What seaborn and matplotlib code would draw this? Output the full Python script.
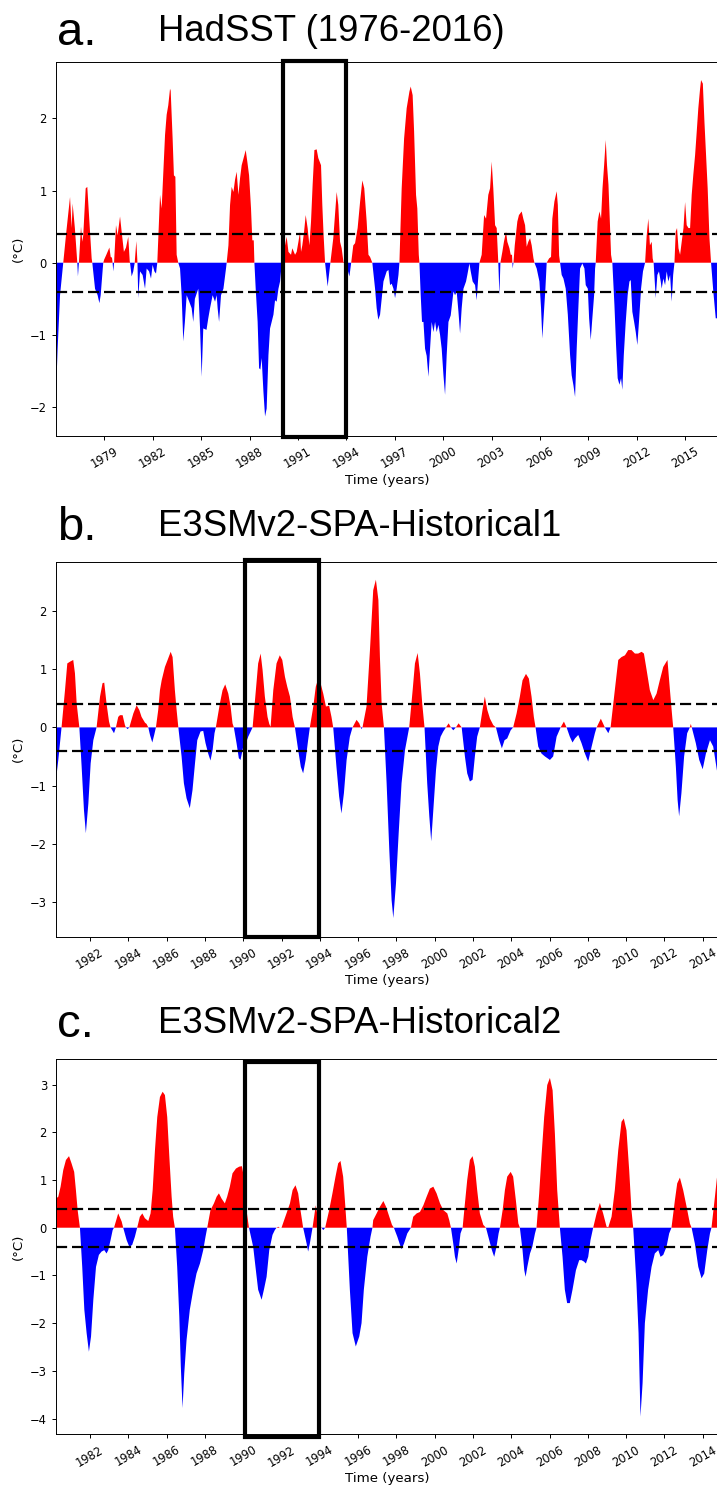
import numpy as np
import matplotlib
matplotlib.use("Agg")
import matplotlib.pyplot as plt
from matplotlib.patches import Rectangle
import seaborn as sns

# ---------------- data: (decimal year, SST anomaly in degC) ----------------
hadsst_points = [
    (1976.00, -1.83), (1976.10, -1.20), (1976.25, -0.45), (1976.45, 0.0), (1976.65, 0.45), (1976.87, 0.91), (1976.97, 0.48), (1977.03, 0.82), (1977.17, 0.48), (1977.23, 0.29),
    (1977.32, 0.0), (1977.36, -0.19), (1977.42, 0.0), (1977.55, 0.50), (1977.63, 0.29), (1977.69, 0.38), (1977.84, 1.03), (1977.94, 1.05), (1978.07, 0.57), (1978.21, 0.06),
    (1978.25, 0.0), (1978.42, -0.36), (1978.58, -0.45), (1978.69, -0.56), (1978.77, -0.45), (1978.90, -0.08), (1978.93, 0.0), (1978.98, 0.04), (1979.12, 0.11), (1979.31, 0.21),
    (1979.39, 0.08), (1979.47, 0.07), (1979.51, 0.0), (1979.55, -0.12), (1979.60, 0.0), (1979.72, 0.52), (1979.82, 0.38), (1979.97, 0.64), (1980.07, 0.43), (1980.21, 0.15),
    (1980.34, 0.21), (1980.48, 0.36), (1980.57, 0.02), (1980.59, 0.0), (1980.69, -0.19), (1980.79, -0.12), (1980.88, 0.0), (1980.98, 0.30), (1981.05, 0.0), (1981.10, -0.49),
    (1981.21, -0.12), (1981.37, -0.17), (1981.52, -0.36), (1981.62, -0.08), (1981.77, -0.12), (1981.89, -0.22), (1981.99, -0.03), (1982.10, -0.12), (1982.20, -0.15), (1982.28, 0.0),
    (1982.45, 0.94), (1982.55, 0.75), (1982.76, 1.77), (1982.86, 2.05), (1982.96, 2.18), (1983.07, 2.41), (1983.11, 2.38), (1983.23, 1.72), (1983.31, 1.21), (1983.40, 1.19),
    (1983.48, 0.11), (1983.58, 0.0), (1983.69, -0.08), (1983.79, -0.45), (1983.89, -1.09), (1983.99, -0.82), (1984.10, -0.45), (1984.26, -0.54), (1984.41, -0.63), (1984.51, -0.82),
    (1984.61, -0.50), (1984.82, -0.36), (1984.93, -0.91), (1985.03, -1.58), (1985.13, -0.91), (1985.33, -0.93), (1985.44, -0.77), (1985.55, -0.63), (1985.71, -0.45), (1985.86, -0.54),
    (1985.96, -0.45), (1986.02, -0.63), (1986.11, -0.82), (1986.23, -0.45), (1986.38, -0.36), (1986.54, -0.08), (1986.58, 0.0), (1986.69, 0.24), (1986.79, 0.80), (1986.89, 1.05),
    (1987.00, 0.98), (1987.10, 1.15), (1987.20, 1.26), (1987.31, 0.94), (1987.41, 1.17), (1987.51, 1.35), (1987.68, 1.49), (1987.76, 1.56), (1987.86, 1.40), (1987.97, 1.21),
    (1988.09, 0.75), (1988.17, 0.31), (1988.26, 0.31), (1988.30, 0.0), (1988.38, -0.36), (1988.50, -0.82), (1988.59, -1.46), (1988.67, -1.48), (1988.75, -1.32), (1988.86, -1.79),
    (1988.96, -2.13), (1989.06, -2.02), (1989.17, -1.28), (1989.27, -0.91), (1989.37, -0.82), (1989.48, -0.72), (1989.58, -0.52), (1989.68, -0.54), (1989.79, -0.36), (1989.89, -0.26),
    (1990.00, 0.0), (1990.10, 0.29), (1990.20, 0.24), (1990.30, 0.36), (1990.41, 0.15), (1990.57, 0.11), (1990.65, 0.20), (1990.82, 0.11), (1990.92, 0.15), (1991.03, 0.29),
    (1991.13, 0.43), (1991.19, 0.15), (1991.27, 0.24), (1991.38, 0.43), (1991.48, 0.66), (1991.60, 0.48), (1991.71, 0.24), (1991.81, 0.57), (1991.91, 1.08), (1992.02, 1.56),
    (1992.16, 1.57), (1992.26, 1.45), (1992.43, 1.35), (1992.51, 0.80), (1992.59, 0.38), (1992.68, 0.0), (1992.84, -0.33), (1993.01, 0.0), (1993.19, 0.34), (1993.40, 0.98),
    (1993.50, 0.80), (1993.61, 0.29), (1993.71, 0.20), (1993.82, 0.01), (1993.96, 0.0), (1994.19, -0.19), (1994.30, 0.0), (1994.43, 0.24), (1994.54, 0.27), (1994.70, 0.48),
    (1994.85, 0.84), (1994.99, 1.14), (1995.11, 1.03), (1995.26, 0.57), (1995.37, 0.11), (1995.47, 0.08), (1995.61, 0.0), (1995.78, -0.36), (1995.88, -0.63), (1995.98, -0.79),
    (1996.09, -0.72), (1996.30, -0.26), (1996.50, -0.12), (1996.61, -0.10), (1996.71, -0.31), (1996.81, -0.29), (1996.92, -0.36), (1997.02, -0.49), (1997.12, -0.36), (1997.23, -0.17),
    (1997.29, 0.0), (1997.43, 1.03), (1997.58, 1.72), (1997.74, 2.14), (1997.91, 2.37), (1997.99, 2.44), (1998.11, 2.32), (1998.20, 1.82), (1998.32, 0.94), (1998.40, 0.75),
    (1998.49, 0.11), (1998.53, 0.0), (1998.61, -0.45), (1998.69, -0.82), (1998.78, -0.82), (1998.88, -1.19), (1998.98, -1.29), (1999.09, -1.58), (1999.19, -1.19), (1999.29, -0.82),
    (1999.40, -0.96), (1999.50, -0.82), (1999.60, -0.96), (1999.71, -0.86), (1999.81, -1.00), (1999.91, -1.19), (2000.02, -1.56), (2000.12, -1.83), (2000.22, -1.28), (2000.33, -0.82),
    (2000.47, -0.73), (2000.64, -0.40), (2000.74, -0.45), (2000.84, -0.40), (2000.95, -0.68), (2001.05, -0.98), (2001.15, -0.63), (2001.26, -0.36), (2001.42, -0.26), (2001.50, -0.17),
    (2001.63, -0.01), (2001.71, -0.12), (2001.83, -0.26), (2001.98, -0.31), (2002.08, -0.52), (2002.16, -0.26), (2002.25, 0.0), (2002.39, 0.11), (2002.54, 0.66), (2002.66, 0.61),
    (2002.80, 0.94), (2002.91, 1.03), (2003.01, 1.40), (2003.11, 1.03), (2003.22, 0.52), (2003.32, 0.48), (2003.42, 0.0), (2003.49, -0.45), (2003.55, 0.0), (2003.67, 0.15),
    (2003.77, 0.29), (2003.90, 0.43), (2003.98, 0.29), (2004.11, 0.20), (2004.19, 0.11), (2004.27, 0.11), (2004.31, -0.08), (2004.36, 0.0), (2004.44, 0.24), (2004.60, 0.57),
    (2004.70, 0.66), (2004.87, 0.71), (2004.97, 0.61), (2005.08, 0.52), (2005.18, 0.22), (2005.28, 0.29), (2005.39, 0.34), (2005.49, 0.24), (2005.60, 0.06), (2005.66, 0.0),
    (2005.80, -0.08), (2005.97, -0.26), (2006.07, -0.63), (2006.15, -1.05), (2006.25, -0.68), (2006.34, -0.36), (2006.42, 0.0), (2006.57, 0.06), (2006.69, 0.08), (2006.77, 0.61),
    (2006.90, 0.85), (2007.04, 0.99), (2007.11, 0.80), (2007.19, 0.10), (2007.25, 0.0), (2007.35, -0.17), (2007.46, -0.22), (2007.60, -0.36), (2007.73, -0.72), (2007.87, -1.28),
    (2007.97, -1.56), (2008.08, -1.70), (2008.18, -1.86), (2008.28, -1.19), (2008.39, -0.59), (2008.49, -0.08), (2008.63, -0.01), (2008.76, -0.08), (2008.84, -0.31), (2008.97, -0.36),
    (2009.05, -0.77), (2009.15, -1.07), (2009.25, -0.77), (2009.36, -0.45), (2009.42, -0.08), (2009.46, 0.0), (2009.58, 0.57), (2009.69, 0.71), (2009.79, 0.61), (2009.88, 1.03),
    (2009.98, 1.35), (2010.08, 1.70), (2010.16, 1.35), (2010.25, 1.08), (2010.35, 0.48), (2010.41, 0.11), (2010.49, 0.0), (2010.62, -0.59), (2010.72, -1.14), (2010.82, -1.60),
    (2010.93, -1.69), (2011.03, -1.60), (2011.11, -1.76), (2011.20, -1.28), (2011.32, -0.82), (2011.44, -0.45), (2011.55, -0.26), (2011.63, -0.24), (2011.73, -0.68), (2011.84, -0.82),
    (2011.94, -0.96), (2012.04, -1.14), (2012.14, -0.82), (2012.27, -0.36), (2012.39, -0.12), (2012.52, 0.0), (2012.62, 0.38), (2012.72, 0.61), (2012.82, 0.24), (2012.93, 0.29),
    (2012.99, 0.06), (2013.05, 0.0), (2013.18, -0.49), (2013.28, -0.17), (2013.38, -0.12), (2013.49, -0.26), (2013.55, -0.36), (2013.65, -0.22), (2013.76, -0.31), (2013.86, -0.12),
    (2013.96, -0.26), (2014.07, -0.17), (2014.17, -0.54), (2014.26, -0.17), (2014.34, 0.0), (2014.42, 0.43), (2014.50, 0.48), (2014.59, 0.20), (2014.69, 0.11), (2014.79, 0.29),
    (2014.90, 0.48), (2015.00, 0.84), (2015.10, 0.52), (2015.21, 0.48), (2015.31, 0.48), (2015.41, 0.94), (2015.51, 1.22), (2015.62, 1.49), (2015.72, 1.81), (2015.82, 2.14),
    (2015.93, 2.41), (2015.99, 2.53), (2016.10, 2.48), (2016.20, 1.95), (2016.30, 1.49), (2016.40, 1.03), (2016.51, 0.34), (2016.61, 0.0), (2016.75, -0.40), (2016.90, -0.77),
    (2016.98, -0.77),
]

historical1_points = [
    (1980.22, -0.90), (1980.34, -0.56), (1980.51, 0.0), (1980.69, 0.64), (1980.81, 1.10), (1980.95, 1.13), (1981.12, 1.16), (1981.21, 0.93), (1981.30, 0.41), (1981.44, 0.0),
    (1981.56, -0.68), (1981.68, -1.42), (1981.78, -1.82), (1981.91, -1.31), (1982.03, -0.62), (1982.17, -0.22), (1982.34, 0.0), (1982.52, 0.53), (1982.65, 0.76), (1982.74, 0.77),
    (1982.86, 0.41), (1982.99, 0.10), (1983.07, 0.0), (1983.25, -0.10), (1983.35, 0.0), (1983.47, 0.18), (1983.56, 0.21), (1983.70, 0.21), (1983.82, 0.04), (1983.87, 0.0),
    (1983.96, -0.03), (1984.05, 0.0), (1984.26, 0.24), (1984.43, 0.38), (1984.57, 0.30), (1984.69, 0.18), (1984.87, 0.08), (1984.95, 0.06), (1985.04, 0.0), (1985.13, -0.13),
    (1985.25, -0.26), (1985.35, -0.13), (1985.44, 0.0), (1985.56, 0.30), (1985.65, 0.64), (1985.74, 0.81), (1985.91, 1.04), (1986.05, 1.16), (1986.21, 1.30), (1986.31, 1.21),
    (1986.43, 0.64), (1986.52, 0.30), (1986.61, 0.0), (1986.78, -0.50), (1986.90, -0.96), (1987.04, -1.22), (1987.21, -1.39), (1987.35, -1.08), (1987.48, -0.62), (1987.60, -0.22),
    (1987.77, -0.07), (1987.91, -0.06), (1988.03, -0.27), (1988.17, -0.45), (1988.29, -0.57), (1988.40, -0.39), (1988.50, -0.10), (1988.57, 0.0), (1988.78, 0.41), (1988.92, 0.64),
    (1989.06, 0.74), (1989.22, 0.58), (1989.34, 0.36), (1989.44, 0.07), (1989.51, 0.0), (1989.65, -0.27), (1989.77, -0.53), (1989.86, -0.56), (1990.00, -0.33), (1990.14, -0.27),
    (1990.26, -0.16), (1990.49, 0.0), (1990.66, 0.64), (1990.78, 1.10), (1990.91, 1.27), (1991.01, 0.99), (1991.13, 0.53), (1991.27, 0.18), (1991.36, 0.06), (1991.43, 0.01),
    (1991.57, 0.64), (1991.74, 1.10), (1991.91, 1.24), (1992.04, 1.16), (1992.18, 0.87), (1992.30, 0.70), (1992.44, 0.53), (1992.58, 0.18), (1992.70, 0.0), (1992.87, -0.39),
    (1993.01, -0.68), (1993.13, -0.79), (1993.26, -0.56), (1993.39, -0.22), (1993.48, 0.0), (1993.66, 0.36), (1993.79, 0.70), (1993.92, 0.84), (1994.04, 0.76), (1994.18, 0.58),
    (1994.32, 0.36), (1994.49, 0.37), (1994.61, 0.18), (1994.70, 0.0), (1994.87, -0.68), (1995.01, -1.19), (1995.13, -1.48), (1995.26, -1.13), (1995.40, -0.56), (1995.57, -0.16),
    (1995.71, 0.0), (1995.92, 0.13), (1996.06, 0.07), (1996.14, 0.0), (1996.18, -0.03), (1996.23, 0.0), (1996.44, 0.36), (1996.62, 1.33), (1996.79, 2.36), (1996.93, 2.54),
    (1997.06, 2.19), (1997.14, 1.21), (1997.23, 0.41), (1997.35, 0.0), (1997.49, -0.96), (1997.63, -2.11), (1997.75, -2.97), (1997.84, -3.28), (1997.98, -2.68), (1998.12, -1.82),
    (1998.27, -0.96), (1998.45, -0.39), (1998.67, 0.0), (1998.85, 0.64), (1998.97, 1.10), (1999.11, 1.28), (1999.23, 0.93), (1999.35, 0.41), (1999.47, 0.0), (1999.61, -0.96),
    (1999.72, -1.53), (1999.82, -1.96), (1999.93, -1.42), (2000.07, -0.73), (2000.19, -0.33), (2000.31, -0.16), (2000.45, -0.07), (2000.59, 0.0), (2000.73, 0.07), (2000.85, 0.0),
    (2000.97, -0.05), (2001.11, 0.0), (2001.25, 0.07), (2001.41, 0.0), (2001.58, -0.50), (2001.70, -0.79), (2001.84, -0.93), (2001.98, -0.90), (2002.10, -0.50), (2002.22, -0.16),
    (2002.36, 0.0), (2002.50, 0.30), (2002.62, 0.53), (2002.75, 0.30), (2002.89, 0.15), (2003.06, 0.04), (2003.20, 0.0), (2003.37, -0.22), (2003.51, -0.36), (2003.65, -0.22),
    (2003.79, -0.19), (2003.97, -0.05), (2004.10, 0.0), (2004.28, 0.24), (2004.45, 0.53), (2004.59, 0.81), (2004.77, 0.92), (2004.92, 0.84), (2005.06, 0.53), (2005.18, 0.18),
    (2005.27, 0.0), (2005.41, -0.33), (2005.58, -0.45), (2005.76, -0.50), (2006.02, -0.56), (2006.19, -0.50), (2006.37, -0.16), (2006.58, 0.0), (2006.75, 0.10), (2006.89, 0.0),
    (2007.06, -0.16), (2007.20, -0.26), (2007.33, -0.19), (2007.50, -0.13), (2007.67, -0.27), (2007.85, -0.45), (2008.02, -0.59), (2008.20, -0.33), (2008.37, -0.10), (2008.46, 0.0),
    (2008.68, 0.15), (2008.89, 0.0), (2009.07, -0.10), (2009.19, 0.0), (2009.41, 0.64), (2009.59, 1.16), (2009.76, 1.21), (2009.94, 1.24), (2010.11, 1.33), (2010.28, 1.33),
    (2010.46, 1.27), (2010.63, 1.27), (2010.81, 1.30), (2010.93, 1.27), (2011.07, 0.99), (2011.24, 0.64), (2011.42, 0.47), (2011.59, 0.58), (2011.76, 0.81), (2011.94, 1.04),
    (2012.16, 1.16), (2012.29, 0.64), (2012.41, 0.18), (2012.46, 0.0), (2012.60, -0.68), (2012.69, -1.25), (2012.77, -1.53), (2012.89, -1.13), (2013.03, -0.50), (2013.19, -0.10),
    (2013.33, 0.0), (2013.38, 0.06), (2013.43, 0.0), (2013.64, -0.27), (2013.82, -0.56), (2014.00, -0.72), (2014.17, -0.45), (2014.38, -0.22), (2014.55, -0.33), (2014.74, -0.73),
    (2014.82, -0.88),
]

historical2_points = [
    (1980.22, 0.61), (1980.34, 0.65), (1980.46, 0.86), (1980.60, 1.21), (1980.74, 1.42), (1980.90, 1.50), (1981.03, 1.35), (1981.17, 1.17), (1981.26, 0.79), (1981.35, 0.37),
    (1981.47, 0.0), (1981.59, -0.82), (1981.70, -1.72), (1981.82, -2.21), (1981.94, -2.60), (1982.05, -2.28), (1982.17, -1.51), (1982.31, -0.82), (1982.46, -0.57), (1982.60, -0.50),
    (1982.74, -0.47), (1982.86, -0.54), (1982.95, -0.47), (1983.07, -0.26), (1983.18, -0.05), (1983.25, 0.0), (1983.47, 0.30), (1983.65, 0.13), (1983.73, 0.0), (1983.91, -0.26),
    (1984.05, -0.40), (1984.20, -0.36), (1984.34, -0.19), (1984.46, 0.0), (1984.60, 0.23), (1984.73, 0.30), (1984.86, 0.20), (1985.04, 0.14), (1985.16, 0.30), (1985.27, 0.79),
    (1985.39, 1.63), (1985.51, 2.32), (1985.65, 2.74), (1985.79, 2.85), (1985.91, 2.78), (1986.03, 2.32), (1986.14, 1.49), (1986.26, 0.65), (1986.34, 0.23), (1986.43, 0.0),
    (1986.55, -0.82), (1986.66, -1.86), (1986.74, -2.91), (1986.83, -3.78), (1986.92, -3.05), (1987.04, -2.35), (1987.21, -1.72), (1987.39, -1.30), (1987.56, -0.96), (1987.74, -0.75),
    (1987.91, -0.47), (1988.03, -0.19), (1988.12, 0.0), (1988.29, 0.37), (1988.47, 0.51), (1988.61, 0.65), (1988.73, 0.72), (1988.87, 0.61), (1989.04, 0.51), (1989.16, 0.65),
    (1989.30, 0.86), (1989.44, 1.14), (1989.62, 1.24), (1989.79, 1.28), (1989.93, 1.29), (1990.03, 1.07), (1990.10, 0.79), (1990.17, 0.37), (1990.30, 0.0), (1990.52, -0.40),
    (1990.66, -0.89), (1990.78, -1.30), (1990.96, -1.51), (1991.08, -1.30), (1991.22, -1.03), (1991.36, -0.47), (1991.53, -0.15), (1991.65, -0.05), (1991.74, 0.0), (1991.83, 0.02),
    (1991.91, 0.0), (1992.00, 0.0), (1992.26, 0.30), (1992.44, 0.51), (1992.58, 0.79), (1992.73, 0.89), (1992.87, 0.72), (1992.99, 0.37), (1993.13, 0.0), (1993.31, -0.33),
    (1993.39, -0.50), (1993.48, -0.33), (1993.62, 0.0), (1993.79, 0.47), (1993.92, 0.16), (1994.09, 0.0), (1994.18, -0.05), (1994.28, 0.0), (1994.49, 0.37), (1994.66, 0.72),
    (1994.82, 1.07), (1994.96, 1.35), (1995.08, 1.40), (1995.22, 1.07), (1995.31, 0.58), (1995.41, 0.0), (1995.57, -1.30), (1995.71, -2.21), (1995.88, -2.49), (1996.06, -2.28),
    (1996.18, -2.00), (1996.30, -1.30), (1996.48, -0.61), (1996.65, -0.19), (1996.75, 0.0), (1996.79, 0.16), (1996.97, 0.30), (1997.14, 0.44), (1997.32, 0.56), (1997.46, 0.44),
    (1997.63, 0.23), (1997.77, 0.06), (1997.87, 0.0), (1998.05, -0.19), (1998.19, -0.36), (1998.27, -0.45), (1998.40, -0.33), (1998.57, -0.12), (1998.76, 0.0), (1998.88, 0.23),
    (1999.06, 0.30), (1999.23, 0.33), (1999.41, 0.47), (1999.58, 0.65), (1999.75, 0.82), (1999.93, 0.86), (2000.10, 0.72), (2000.28, 0.51), (2000.45, 0.37), (2000.66, 0.30),
    (2000.76, 0.16), (2000.85, 0.0), (2000.97, -0.33), (2001.06, -0.61), (2001.15, -0.75), (2001.25, -0.47), (2001.35, -0.12), (2001.46, 0.0), (2001.58, 0.51), (2001.70, 1.00),
    (2001.84, 1.42), (2001.98, 1.50), (2002.10, 1.28), (2002.22, 0.79), (2002.36, 0.30), (2002.54, 0.06), (2002.68, 0.0), (2002.85, -0.26), (2002.99, -0.47), (2003.11, -0.61),
    (2003.23, -0.40), (2003.34, -0.12), (2003.41, 0.0), (2003.55, 0.37), (2003.67, 0.79), (2003.79, 1.07), (2003.97, 1.17), (2004.10, 1.07), (2004.24, 0.58), (2004.37, 0.09),
    (2004.45, 0.0), (2004.59, -0.47), (2004.68, -0.89), (2004.75, -1.03), (2004.84, -0.82), (2004.98, -0.54), (2005.10, -0.40), (2005.24, -0.12), (2005.32, 0.0), (2005.46, 0.72),
    (2005.58, 1.49), (2005.72, 2.32), (2005.88, 2.99), (2006.02, 3.14), (2006.16, 2.88), (2006.28, 1.97), (2006.40, 0.79), (2006.54, 0.0), (2006.68, -0.61), (2006.80, -1.30),
    (2006.92, -1.58), (2007.06, -1.58), (2007.20, -1.30), (2007.38, -0.89), (2007.55, -0.68), (2007.67, -0.68), (2007.80, -0.71), (2007.90, -0.75), (2008.02, -0.61), (2008.14, -0.26),
    (2008.28, 0.0), (2008.46, 0.30), (2008.63, 0.52), (2008.80, 0.30), (2008.98, 0.02), (2009.07, 0.01), (2009.24, 0.23), (2009.41, 0.79), (2009.59, 1.63), (2009.76, 2.22),
    (2009.88, 2.29), (2010.02, 2.04), (2010.16, 1.21), (2010.28, 0.37), (2010.37, 0.0), (2010.54, -1.17), (2010.65, -2.21), (2010.75, -3.96), (2010.86, -3.26), (2010.98, -2.00),
    (2011.15, -1.30), (2011.33, -0.82), (2011.50, -0.54), (2011.68, -0.47), (2011.80, -0.61), (2011.94, -0.57), (2012.11, -0.40), (2012.25, -0.12), (2012.37, 0.0), (2012.55, 0.58),
    (2012.67, 0.93), (2012.81, 1.05), (2012.98, 0.79), (2013.16, 0.44), (2013.33, 0.09), (2013.42, 0.0), (2013.59, -0.33), (2013.77, -0.82), (2013.94, -1.06), (2014.08, -0.96),
    (2014.24, -0.47), (2014.38, -0.12), (2014.46, 0.0), (2014.64, 0.65), (2014.74, 1.03), (2014.82, 1.25),
]

panel_letters = ["a.", "b.", "c."]
panel_titles = ["HadSST (1976-2016)", "E3SMv2-SPA-Historical1", "E3SMv2-SPA-Historical2"]
series = [hadsst_points, historical1_points, historical2_points]
threshold = 0.4
highlight_years = (1990.1, 1993.95)
x_ticks = [list(range(1979, 2016, 3)), list(range(1982, 2015, 2)), list(range(1982, 2015, 2))]
x_limits = [(1976.0, 2017.04), (1980.22, 2014.80), (1980.22, 2014.80)]
y_limits = [(-2.40, 2.78), (-3.60, 2.85), (-4.33, 3.53)]
x_label = "Time (years)"
y_label = "(°C)"

# ---------------- figure ----------------
sns.set_theme(style="ticks")
plt.rcParams.update({
    "font.family": ["DejaVu Sans"],
    "axes.edgecolor": "black",
    "axes.linewidth": 0.7,
    "xtick.color": "black",
    "ytick.color": "black",
    "text.color": "black",
    "axes.labelcolor": "black",
    "xtick.major.size": 3,
    "ytick.major.size": 3,
    "xtick.major.width": 0.7,
    "ytick.major.width": 0.7,
    "xtick.labelsize": 8.3,
    "ytick.labelsize": 8.3,
    "axes.labelsize": 9.6,
})

W, H = 717, 1485
fig = plt.figure(figsize=(W / 100, H / 100), dpi=100)
fig.patch.set_facecolor("white")

# pixel boxes of each axes: (top, bottom)
boxes = [(62.0, 436.0), (561.7, 936.7), (1059.3, 1434.3)]
left_px, right_px = 56.0, 718.0
# heading baselines (letter, title)
heading_y = [(45, 41), (540, 536), (1037, 1033)]
rect_y = [(-0.003, 1.003), (-0.001, 1.004), (-0.006, 0.994)]

for i in range(3):
    top, bot = boxes[i]
    ax = fig.add_axes([left_px / W, 1 - bot / H, (right_px - left_px) / W, (bot - top) / H])
    pts = np.array(series[i])
    x, y = pts[:, 0], pts[:, 1]

    ax.fill_between(x, y, 0, where=y >= 0, interpolate=True, color="#ff0000", linewidth=0)
    ax.fill_between(x, y, 0, where=y <= 0, interpolate=True, color="#0000ff", linewidth=0)
    for level in (threshold, -threshold):
        ax.axhline(level, color="black", linestyle="--", linewidth=1.6, dashes=(5, 2.2))

    ax.set_xlim(*x_limits[i])
    ax.set_ylim(*y_limits[i])
    ax.set_xticks(x_ticks[i])
    ax.set_xticklabels([str(t) for t in x_ticks[i]], rotation=30)
    ax.yaxis.set_major_locator(matplotlib.ticker.MultipleLocator(1))
    ax.set_xlabel(x_label, labelpad=2)
    ax.set_ylabel(y_label, labelpad=4)
    ax.grid(False)

    r0, r1 = rect_y[i]
    ax.add_patch(Rectangle((highlight_years[0], r0), highlight_years[1] - highlight_years[0], r1 - r0,
                           transform=ax.get_xaxis_transform(), fill=False,
                           edgecolor="black", linewidth=3.0, clip_on=False, zorder=5))

    ly, ty = heading_y[i]
    fig.text(57 / W, 1 - ly / H, panel_letters[i], family=["Liberation Sans"], fontsize=34,
             ha="left", va="baseline")
    fig.text(158 / W, 1 - ty / H, panel_titles[i], family=["Liberation Sans"], fontsize=26.3,
             ha="left", va="baseline")

fig.savefig("out.png", dpi=100, facecolor="white")
